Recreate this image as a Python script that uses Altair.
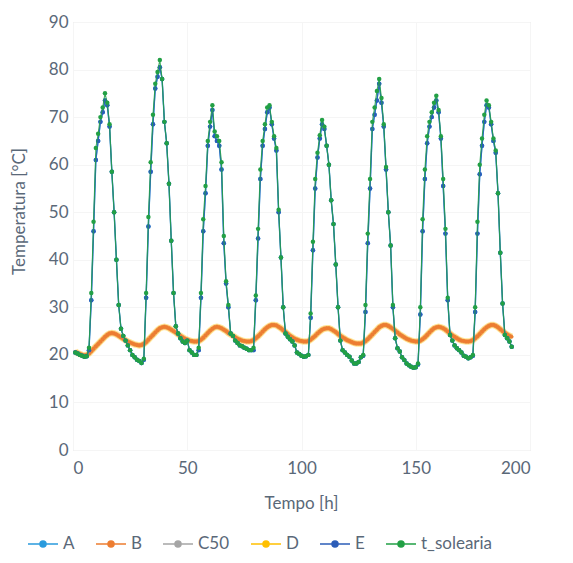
import altair as alt
import pandas as pd

# time axis (hours)
hours = list(range(1, 193))

# t_solearia readings, h1..h192
t_solearia = [
    20.5, 20.3, 20.0, 19.8, 19.6, 19.7, 21.5, 33.0, 48.0, 63.5, 66.5, 70.0, 72.0, 75.0, 73.0, 68.5, 58.5, 50.0, 40.0, 30.5, 25.5, 24.0, 23.0,
    22.0, 21.0, 20.0, 19.5, 19.0, 18.7, 18.3, 19.2, 33.0, 49.0, 60.5, 70.5, 77.0, 79.5, 82.0, 78.0, 69.0, 64.5, 56.0, 44.0, 33.0, 26.0, 24.5, 23.5,
    22.8, 22.5, 23.0, 21.0, 20.5, 20.0, 20.0, 21.5, 33.0, 48.5, 55.5, 65.0, 69.0, 72.5, 67.0, 66.0, 65.0, 60.5, 45.0, 35.5, 30.5, 24.5, 24.0, 23.0,
    22.5, 22.0, 21.8, 21.5, 21.3, 21.0, 21.0, 21.5, 32.5, 46.5, 59.0, 65.0, 68.5, 72.0, 72.5, 69.0, 66.0, 63.5, 50.5, 40.5, 30.0, 24.5, 23.8, 23.3,
    22.8, 22.0, 20.5, 20.2, 19.8, 19.6, 19.7, 20.0, 28.7, 43.8, 57.0, 62.5, 66.2, 69.4, 68.0, 64.0, 60.0, 52.5, 47.5, 39.0, 30.0, 23.0, 21.0, 20.5,
    20.0, 19.6, 18.8, 18.2, 18.2, 18.5, 19.5, 20.0, 30.5, 45.5, 57.0, 69.0, 72.0, 75.5, 78.0, 74.0, 68.5, 59.5, 50.0, 43.0, 30.5, 23.5, 21.4, 20.7,
    19.5, 18.9, 18.2, 17.8, 17.5, 17.3, 17.4, 18.2, 30.0, 48.5, 59.0, 66.0, 69.0, 71.0, 73.0, 74.5, 71.5, 66.0, 57.0, 46.5, 32.0, 24.2, 23.0, 22.0,
    21.4, 21.0, 20.5, 19.8, 19.6, 19.3, 19.5, 20.0, 30.0, 48.0, 60.0, 65.5, 70.5, 73.5, 72.5, 69.0, 65.5, 63.0, 54.0, 41.5, 30.8, 24.2, 23.5, 22.8, 21.7,
]

# E readings (dark blue), h1..h192
E_vals = [
    20.5, 20.3, 20.0, 19.8, 19.6, 19.7, 21.0, 31.5, 46.0, 61.0, 65.0, 69.0, 71.0, 73.5, 72.5, 68.0, 58.5, 50.0, 40.0, 30.5, 25.5, 24.0, 23.0,
    22.0, 21.0, 20.0, 19.5, 19.0, 18.7, 18.3, 19.0, 32.0, 47.0, 58.5, 68.5, 76.0, 78.5, 80.5, 78.0, 69.0, 64.5, 56.0, 44.0, 33.0, 26.0, 24.5, 23.5,
    22.8, 22.5, 23.0, 21.0, 20.5, 20.0, 20.0, 21.0, 32.0, 46.0, 54.0, 64.0, 68.0, 71.5, 66.0, 65.0, 64.0, 59.0, 43.5, 35.0, 30.0, 24.5, 24.0, 23.0,
    22.5, 22.0, 21.8, 21.5, 21.3, 21.0, 21.0, 21.0, 31.5, 44.5, 57.0, 64.0, 67.5, 71.0, 72.0, 68.5, 65.5, 63.0, 50.0, 40.5, 30.0, 24.5, 23.8, 23.3,
    22.8, 22.0, 20.5, 20.2, 19.8, 19.6, 19.7, 20.0, 27.8, 42.0, 55.0, 61.5, 65.5, 68.5, 67.5, 64.0, 60.0, 52.5, 47.5, 39.0, 30.0, 23.0, 21.0, 20.5,
    20.0, 19.6, 18.8, 18.2, 18.2, 18.5, 19.5, 19.8, 29.0, 43.5, 55.0, 67.5, 70.5, 73.5, 77.0, 73.0, 68.0, 59.0, 50.0, 43.0, 30.0, 23.5, 21.4, 20.7,
    19.5, 18.9, 18.2, 17.8, 17.5, 17.3, 17.4, 18.0, 28.5, 46.0, 57.0, 64.5, 68.0, 70.0, 72.0, 73.5, 71.0, 65.5, 55.5, 45.5, 31.5, 24.2, 23.0, 22.0,
    21.4, 21.0, 20.5, 19.8, 19.6, 19.3, 19.5, 19.8, 29.0, 45.5, 58.0, 64.0, 69.0, 72.5, 72.0, 68.5, 65.0, 62.5, 54.0, 41.5, 30.8, 24.2, 23.5, 22.8, 21.7,
]

# B readings (orange), h1..h192
B_vals = [
    20.7, 20.4, 20.2, 20.0, 19.9, 20.0, 20.3, 20.8, 21.3, 21.8, 22.3, 22.8, 23.3, 23.8, 24.2, 24.5, 24.6, 24.5, 24.3, 24.0, 23.7, 23.4, 23.1,
    22.8, 22.6, 22.4, 22.2, 22.1, 22.0, 22.1, 22.3, 22.7, 23.2, 23.7, 24.2, 24.7, 25.2, 25.6, 25.8, 25.9, 25.8, 25.6, 25.3, 25.0, 24.7, 24.3, 24.0,
    23.7, 23.4, 23.2, 23.0, 22.9, 22.8, 22.8, 22.9, 23.2, 23.6, 24.1, 24.6, 25.1, 25.5, 25.8, 25.9, 25.8, 25.6, 25.3, 25.0, 24.6, 24.3, 24.0, 23.7,
    23.4, 23.2, 23.0, 22.9, 22.8, 22.8, 22.9, 23.1, 23.5, 23.9, 24.4, 24.9, 25.4, 25.8, 26.1, 26.3, 26.3, 26.2, 25.9, 25.6, 25.2, 24.8, 24.4, 24.0,
    23.7, 23.4, 23.2, 23.0, 22.9, 22.8, 22.8, 22.9, 23.2, 23.6, 24.0, 24.5, 24.9, 25.3, 25.5, 25.6, 25.6, 25.4, 25.1, 24.8, 24.4, 24.0, 23.7, 23.4,
    23.1, 22.9, 22.7, 22.5, 22.4, 22.4, 22.4, 22.6, 22.9, 23.3, 23.8, 24.3, 24.8, 25.3, 25.8, 26.1, 26.3, 26.3, 26.1, 25.8, 25.5, 25.1, 24.7, 24.3,
    24.0, 23.7, 23.4, 23.2, 23.0, 22.9, 22.8, 22.8, 23.0, 23.3, 23.7, 24.2, 24.7, 25.2, 25.6, 25.8, 25.9, 25.8, 25.6, 25.3, 24.9, 24.5, 24.1, 23.8,
    23.5, 23.2, 23.0, 22.9, 22.8, 22.8, 22.9, 23.1, 23.5, 23.9, 24.4, 24.9, 25.4, 25.8, 26.1, 26.3, 26.3, 26.1, 25.8, 25.4, 25.0, 24.6, 24.3, 24.0, 23.8,
]

# A lies under E, C50 and D lie under B in the picture
A_vals = list(E_vals)
C50_vals = list(B_vals)
D_vals = list(B_vals)

series_names = ["A", "B", "C50", "D", "E", "t_solearia"]
series_colors = ["#2A9BDD", "#ED7D31", "#A5A5A5", "#FFC000", "#2C5DB8", "#22A045"]
series_values = {"A": A_vals, "B": B_vals, "C50": C50_vals, "D": D_vals, "E": E_vals, "t_solearia": t_solearia}

# drawing order (bottom to top) and styles
draw_order = ["D", "C50", "B", "A", "E", "t_solearia"]
line_width = {"A": 1.4, "B": 4.5, "C50": 1.2, "D": 6.5, "E": 1.2, "t_solearia": 1.1}
line_opac = {"A": 0.9, "B": 0.75, "C50": 1.0, "D": 0.4, "E": 0.9, "t_solearia": 0.85}
point_size = {"A": 20, "B": 12, "C50": 10, "D": 10, "E": 20, "t_solearia": 20}

rows = []
for name in series_names:
    for h, v in zip(hours, series_values[name]):
        rows.append({"hour": h, "temp": v, "serie": name})
df = pd.DataFrame(rows)

TXT = "#5A6878"
FONT = "Lato"
FS = 17
SYM = "M-1,0H1M-0.2,0A0.2,0.2,0,1,1,0.2,0A0.2,0.2,0,1,1,-0.2,0Z"


def mk_legend():
    return alt.Legend(
        title=None, orient="none", legendX=-46, legendY=506, direction="horizontal",
        symbolType=SYM, symbolSize=900, symbolStrokeWidth=1.5, labelFontSize=FS, labelFont=FONT,
        labelColor=TXT, labelOffset=4, columnPadding=18, symbolOpacity=1,
    )


stroke = alt.Stroke("serie:N", scale=alt.Scale(domain=series_names, range=series_colors), legend=mk_legend())
fill = alt.Fill("serie:N", scale=alt.Scale(domain=series_names, range=series_colors), legend=mk_legend())

axis_text = dict(labelFont=FONT, titleFont=FONT, labelFontSize=FS, titleFontSize=FS,
                 labelColor=TXT, titleColor=TXT, titleFontWeight="normal",
                 ticks=False, domain=False, grid=True, gridColor="#F5F5F5", gridWidth=1)

x = alt.X("hour:Q", scale=alt.Scale(domain=[0, 200], nice=False),
          axis=alt.Axis(values=[0, 50, 100, 150, 200], title="Tempo [h]", titleX=228, titleY=53,
                        titleBaseline="middle", labelPadding=10, **axis_text))
y = alt.Y("temp:Q", scale=alt.Scale(domain=[0, 90], nice=False),
          axis=alt.Axis(values=list(range(0, 100, 10)), title="Temperatura [°C]", titleX=-54, titleY=189,
                        titleAngle=270, titleAlign="center", titleBaseline="middle",
                        labelPadding=5, **axis_text))

base = alt.Chart(df)
layers = []
for name in draw_order:
    sub = base.transform_filter(alt.datum.serie == name)
    layers.append(sub.mark_line(strokeWidth=line_width[name], strokeOpacity=line_opac[name])
                  .encode(x=x, y=y, stroke=stroke))
    layers.append(sub.mark_circle(size=point_size[name], opacity=1).encode(x=x, y=y, fill=fill))

chart = alt.layer(*layers).properties(
    width=457, height=428,
    padding={"left": 65, "top": 14, "right": 20, "bottom": 104},
    autosize=alt.AutoSizeParams(type="none"),
).configure_view(stroke="#C9D6E3", strokeWidth=1.5).configure(background="white")

chart.save("out.html", embed_options={"renderer": "svg", "actions": False})
